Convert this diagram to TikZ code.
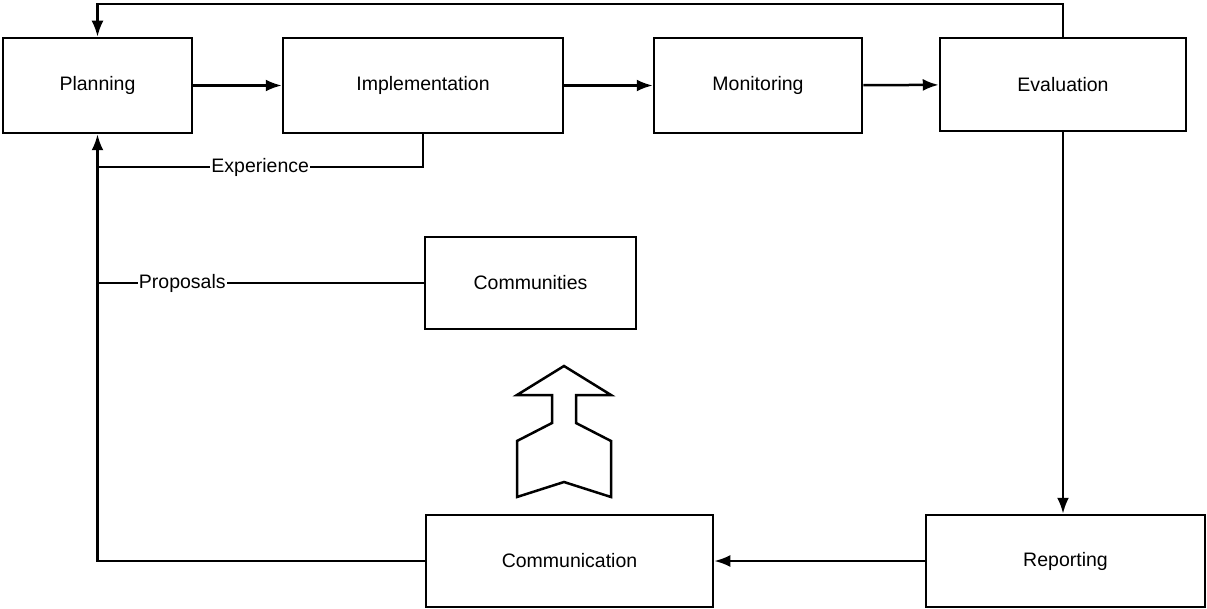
\documentclass[tikz,border=0pt]{standalone}
\usepackage{fontspec}
\setmainfont{Liberation Sans}
\usepackage{tikz}
\usetikzlibrary{arrows.meta}
\tikzset{stage/.style={draw, line width=2.5pt, align=center, inner sep=0pt},
         flow/.style={line width=2.5pt, -{Latex[length=16pt,width=12pt]}},
         link/.style={line width=2.5pt},
         lbl/.style={fill=white, inner sep=1pt}}

\begin{document}
\begin{tikzpicture}[x=1pt, y=-1pt, font=\fontsize{19.5}{23}\selectfont]
            \useasboundingbox (0,0) rectangle (1207,609);
            % top row
            \node[stage, minimum width=189pt, minimum height=95pt] (plan) at (97.5,85.5) {Planning};
            \node[stage, minimum width=280pt, minimum height=95pt] (impl) at (423,85.5) {Implementation};
            \node[stage, minimum width=208pt, minimum height=95pt] (mon) at (758,85.5) {Monitoring};
            \node[stage, minimum width=246pt, minimum height=93pt] (eval) at (1063,84.5) {Evaluation};
            % middle and bottom
            \node[stage, minimum width=211pt, minimum height=92pt] (cmty) at (530.5,283) {Communities};
            \node[stage, minimum width=287pt, minimum height=92pt] (comm) at (569.5,561) {Communication};
            \node[stage, minimum width=279pt, minimum height=92pt] (rep) at (1065.5,561) {Reporting};

            \coordinate (fbtop) at (97.5,4);
            \coordinate (expjoin) at (97.5,167);
            \coordinate (propjoin) at (97.5,283);

            \draw[flow] (plan) -- (impl);
            \draw[flow] (impl) -- (mon);
            \draw[flow] (mon) -- (eval);
            \draw[flow] (eval.north) |- (fbtop) -- (plan.north);
            \draw[flow] (eval.south) -- (eval.south |- rep.north);
            \draw[flow] (rep.west) -- (comm.east);
            \draw[flow] (comm.west) -| (plan.south);
            \draw[link] (impl.south) |- node[lbl, pos=0.75] {Experience} (expjoin);
            \draw[link] (cmty.west) -- node[lbl, pos=0.74] {Proposals} (propjoin);

            % hollow arrow
            \draw[line width=2.5pt, line join=miter] (564,366) -- (611,395) -- (576,395) -- (576,423) -- (611,441)
              -- (611,497) -- (564,482) -- (517,497) -- (517,441) -- (552,423) -- (552,395) -- (517,395) -- cycle;
        \end{tikzpicture}
\end{document}
